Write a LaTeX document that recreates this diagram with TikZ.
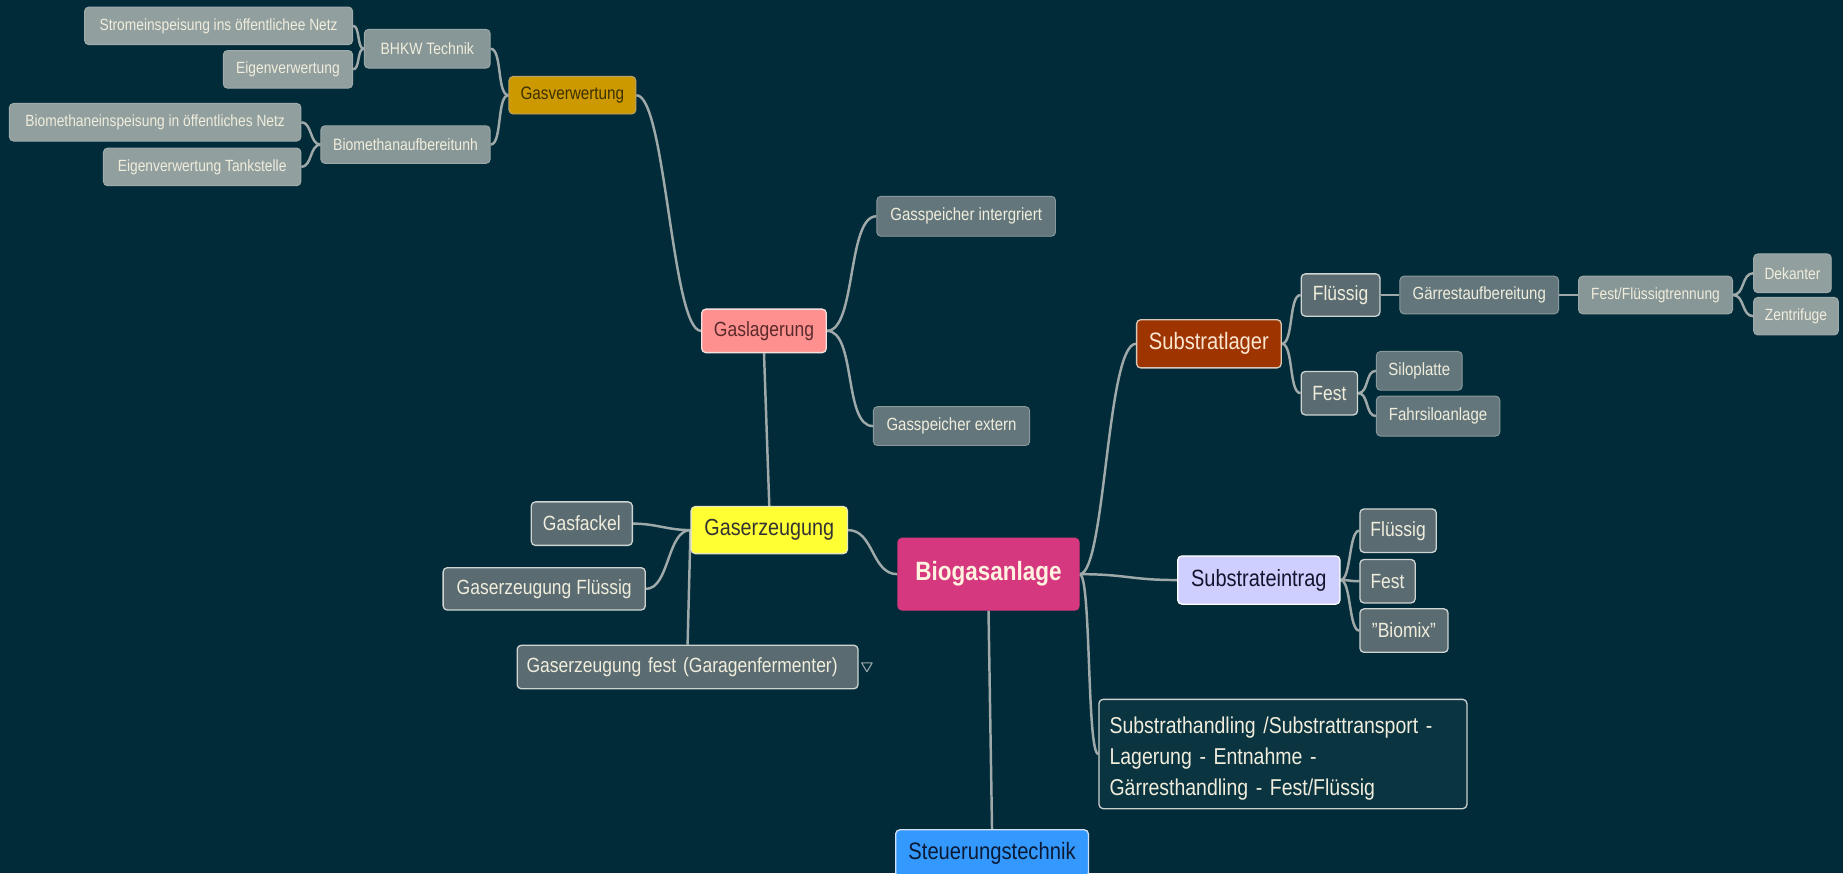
\documentclass[tikz,border=0pt]{standalone}
\usepackage{fontspec}
\setmainfont{Liberation Sans}[FakeStretch=0.85]
\usetikzlibrary{calc,backgrounds}
\definecolor{bgc}{HTML}{012B39}
\definecolor{linec}{HTML}{9FA9A9}
\definecolor{c2}{HTML}{5A6C71}
\definecolor{b2}{HTML}{CFD4D2}
\definecolor{c3}{HTML}{63767B}
\definecolor{b3}{HTML}{8A9A9C}
\definecolor{c4}{HTML}{879696}
\definecolor{b4}{HTML}{9AA8A8}
\definecolor{c5}{HTML}{919F9F}
\definecolor{b5}{HTML}{A0ACAC}
\definecolor{tcr}{HTML}{F0EDDC}
\definecolor{shfill}{HTML}{0B3441}
\definecolor{shdraw}{HTML}{CCD0D0}
\definecolor{biofill}{HTML}{D6387F}
\definecolor{biotext}{HTML}{FFF3E0}
\definecolor{gefill}{HTML}{FFFF33}
\definecolor{gedraw}{HTML}{E8E8C0}
\definecolor{getext}{HTML}{333333}
\definecolor{glfill}{HTML}{FF9090}
\definecolor{gldraw}{HTML}{F5E0E0}
\definecolor{gltext}{HTML}{5A2A2A}
\definecolor{gvfill}{HTML}{CC9900}
\definecolor{gvdraw}{HTML}{B8A470}
\definecolor{gvtext}{HTML}{3B3000}
\definecolor{slfill}{HTML}{9E3500}
\definecolor{sldraw}{HTML}{D9C8B8}
\definecolor{sltext}{HTML}{FBE6D0}
\definecolor{sefill}{HTML}{CFCFFF}
\definecolor{sedraw}{HTML}{FFFFFF}
\definecolor{setext}{HTML}{14142E}
\definecolor{stfill}{HTML}{3399FF}
\definecolor{stdraw}{HTML}{D0E0F0}
\definecolor{sttext}{HTML}{0B1A33}
\newcommand\mmfs[2]{\fontsize{#1}{#2}\selectfont}
\tikzset{
  nb/.style={rounded corners=3.5pt, inner sep=0pt, line width=1.1pt, align=center},
  sz/.style 2 args={minimum width=#1, minimum height=#2},
  lvtwo/.style={nb, fill=c2, draw=b2, text=tcr, font=\mmfs{17.5}{21}},
  lvthree/.style={nb, fill=c3, draw=b3, line width=0.8pt, text=tcr, font=\mmfs{15}{18}},
  lvfour/.style={nb, fill=c4, draw=b4, line width=0.8pt, text=tcr, font=\mmfs{14}{17}},
  lvfive/.style={nb, fill=c5, draw=b5, line width=0.8pt, text=tcr, font=\mmfs{13.8}{17}},
  lnk/.style={draw=linec, line width=2.1pt},
}
\begin{document}
\begin{tikzpicture}[x=1pt,y=-1pt]
\useasboundingbox (0,0) rectangle (1568,743);
% root
\node[nb, fill=biofill, draw=biofill, text=biotext, font=\mmfs{22.5}{27}\bfseries, sz={154}{61}] (B) at (841,488.5) {Biogasanlage};
% level 1
\node[nb, fill=gefill, draw=gedraw, text=getext, font=\mmfs{19.8}{24}, sz={133}{40}] (GE) at (654.5,451) {Gaserzeugung};
\node[nb, fill=slfill, draw=sldraw, text=sltext, font=\mmfs{20.2}{24}, sz={123}{41}] (SL) at (1028.5,292.5) {Substratlager};
\node[nb, fill=sefill, draw=sedraw, text=setext, font=\mmfs{20}{24}, sz={138}{41}] (SE) at (1071,493.5) {Substrateintrag};
\node[nb, fill=stfill, draw=stdraw, text=sttext, font=\mmfs{20.2}{24}, sz={164}{40}] (ST) at (844,726) {Steuerungstechnik};
\node[nb, fill=shfill, draw=shdraw, text=tcr, font=\mmfs{19.5}{26.5}, align=left, text width=295, inner xsep=8pt, sz={313}{93}] (SH) at (1091.5,641.5) {\rule{0pt}{22pt}Substrathandling /Substrattransport -\\Lagerung - Entnahme -\\Gärresthandling - Fest/Flüssig};
% Gaserzeugung branch
\node[nb, fill=glfill, draw=gldraw, text=gltext, font=\mmfs{17.5}{21}, sz={106}{37}] (GL) at (650,281.5) {Gaslagerung};
\node[lvtwo, sz={86}{37}] (GF) at (495,445.5) {Gasfackel};
\node[lvtwo, sz={172}{36}] (GEFL) at (463,501) {Gaserzeugung Flüssig};
\node[lvtwo, sz={290}{37}, align=left, text width=274] (GEFE) at (585,567.5) {Gaserzeugung fest (Garagenfermenter)};
% Gaslagerung branch
\node[nb, fill=gvfill, draw=gvdraw, line width=0.8pt, text=gvtext, font=\mmfs{15.3}{18}, sz={108}{32}] (GV) at (487,81) {Gasverwertung};
\node[lvthree, sz={152}{34}] (GSI) at (822,184) {Gasspeicher intergriert};
\node[lvthree, sz={133}{33}] (GSE) at (809.5,362.5) {Gasspeicher extern};
% Gasverwertung branch
\node[lvfour, sz={107}{33}] (BH) at (363.5,41.5) {BHKW Technik};
\node[lvfour, sz={144}{32}] (BM) at (345,123) {Biomethanaufbereitunh};
\node[lvfive, sz={228}{32}] (STR) at (186,22) {Stromeinspeisung ins öffentlichee Netz};
\node[lvfive, sz={110}{32}] (EV) at (245,59) {Eigenverwertung};
\node[lvfive, sz={248}{32}] (BME) at (132,104) {Biomethaneinspeisung in öffentliches Netz};
\node[lvfive, sz={168}{32}] (EVT) at (172,142) {Eigenverwertung Tankstelle};
% Substratlager branch
\node[lvtwo, sz={67}{36}] (SLF) at (1140.5,251) {Flüssig};
\node[lvtwo, sz={48}{37}] (SLS) at (1131,334.5) {Fest};
\node[lvthree, sz={135}{32}] (GA) at (1258.5,251) {Gärrestaufbereitung};
\node[lvfour, font=\mmfs{13.8}{17}, sz={131}{32}] (FFT) at (1408.5,251) {Fest/Flüssigtrennung};
\node[lvfive, sz={66}{33}] (DK) at (1525,232.5) {Dekanter};
\node[lvfive, sz={72}{32}] (ZF) at (1528,269) {Zentrifuge};
\node[lvthree, sz={73}{33}] (SP) at (1207.5,315.5) {Siloplatte};
\node[lvthree, sz={105}{34}] (FS) at (1223.5,354) {Fahrsiloanlage};
% Substrateintrag branch
\node[lvtwo, sz={65}{37}] (SEF) at (1189.5,451.5) {Flüssig};
\node[lvtwo, sz={47}{37}] (SES) at (1180.5,494.5) {Fest};
\node[lvtwo, sz={75}{37}] (SEB) at (1194.5,536.5) {\char34 Biomix\char34};
% collapse marker
\draw[linec, line width=0.9pt, line join=round] ($(GEFE.east)+(2.5,-3.5)$) -- ++(9,0) -- ++(-4.5,7.5) -- cycle;
\begin{pgfonlayer}{background}
\fill[bgc] (0,0) rectangle (1568,743);
\draw[lnk] (B.west) .. controls +(-22,0) and +(22,0) .. (GE.east);
\draw[lnk] (B.east) .. controls +(22,0) and +(-25,0) .. (SL.west);
\draw[lnk] (B.east) .. controls +(40,0) and +(-40,0) .. (SE.west);
\draw[lnk] (B.east) .. controls +(10,0) and +(-10,0) .. (SH.west);
\draw[lnk] (B.south) -- (ST.north);
\draw[lnk] (GE.north) -- (GL.south);
\draw[lnk] (GE.west) .. controls +(-20,0) and +(20,0) .. (GF.east);
\draw[lnk] (GE.west) .. controls +(-20,0) and +(20,0) .. (GEFL.east);
\draw[lnk] (GE.west) -- (GEFE.north);
\draw[lnk] (GL.west) .. controls +(-25,0) and +(25,0) .. (GV.east);
\draw[lnk] (GL.east) .. controls +(25,0) and +(-25,0) .. (GSI.west);
\draw[lnk] (GL.east) .. controls +(25,0) and +(-25,0) .. (GSE.west);
\draw[lnk] (GV.west) .. controls +(-10,0) and +(10,0) .. (BH.east);
\draw[lnk] (GV.west) .. controls +(-10,0) and +(10,0) .. (BM.east);
\draw[lnk] (BH.west) .. controls +(-6,0) and +(6,0) .. (STR.east);
\draw[lnk] (BH.west) .. controls +(-6,0) and +(6,0) .. (EV.east);
\draw[lnk] (BM.west) .. controls +(-9,0) and +(9,0) .. (BME.east);
\draw[lnk] (BM.west) .. controls +(-9,0) and +(9,0) .. (EVT.east);
\draw[lnk] (SL.east) .. controls +(10,0) and +(-10,0) .. (SLF.west);
\draw[lnk] (SL.east) .. controls +(10,0) and +(-10,0) .. (SLS.west);
\draw[lnk] (SLF.east) -- (GA.west);
\draw[lnk] (GA.east) -- (FFT.west);
\draw[lnk] (FFT.east) .. controls +(10,0) and +(-10,0) .. (DK.west);
\draw[lnk] (FFT.east) .. controls +(10,0) and +(-10,0) .. (ZF.west);
\draw[lnk] (SLS.east) .. controls +(9,0) and +(-9,0) .. (SP.west);
\draw[lnk] (SLS.east) .. controls +(9,0) and +(-9,0) .. (FS.west);
\draw[lnk] (SE.east) .. controls +(9,0) and +(-9,0) .. (SEF.west);
\draw[lnk] (SE.east) .. controls +(9,0) and +(-9,0) .. (SES.west);
\draw[lnk] (SE.east) .. controls +(9,0) and +(-9,0) .. (SEB.west);
\end{pgfonlayer}
\end{tikzpicture}
\end{document}
